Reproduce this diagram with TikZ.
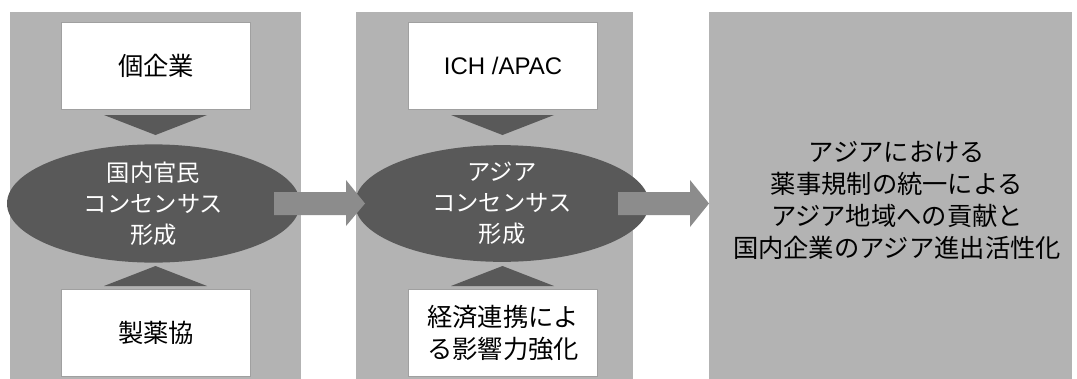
\documentclass[tikz,border=0pt]{standalone}
\usepackage{fontspec}
\setmainfont{Noto Sans CJK JP}
\newfontfamily\latinfont{Liberation Sans}
\usetikzlibrary{positioning,shapes.geometric}
\definecolor{panelgray}{RGB}{179,179,179}
\definecolor{darkgray}{RGB}{89,89,89}
\definecolor{arrowgray}{RGB}{140,140,140}
\definecolor{bordergray}{RGB}{160,160,160}
\tikzset{
  panel/.style={fill=panelgray, draw=none, inner sep=0pt, anchor=north west},
  wbox/.style={fill=white, draw=bordergray, line width=1pt, inner sep=0pt, anchor=north west,
    font=\fontsize{25.3}{32}\selectfont, align=center, text=black},
  oval/.style={ellipse, fill=darkgray, draw=none, inner sep=0pt, text=white,
    font=\fontsize{23.3}{31}\selectfont, align=center},
  tri/.style={fill=darkgray, draw=none},
  blockarrow/.style={fill=arrowgray, draw=none},
  bigtext/.style={font=\fontsize{25.3}{32}\selectfont, align=center, text=black}
}
\begin{document}
\begin{tikzpicture}[x=1pt,y=-1pt]
\useasboundingbox[fill=white] (0,0) rectangle (1077,378);
% panels
\node[panel, minimum width=291pt, minimum height=368pt] (p1) at (10,12) {};
\node[panel, minimum width=277pt, minimum height=368pt] (p2) at (356,12) {};
\node[panel, minimum width=363pt, minimum height=368pt] (p3) at (709,12) {};
% top and bottom boxes
\node[wbox, minimum width=189pt, minimum height=87pt] (b1t) at (61,22) {個企業};
\node[wbox, minimum width=189pt, minimum height=87pt] (b1b) at (61,289) {製薬協};
\node[wbox, minimum width=189pt, minimum height=87pt] (b2t) at (408,22) {\fontsize{24}{30}\latinfont ICH /APAC};
\node[wbox, minimum width=189pt, minimum height=87pt] (b2b) at (408,289) {経済連携によ\\る影響力強化};
% ellipses
\node[oval, minimum width=293pt, minimum height=103pt] (e1) at (153.5,203.5) {国内官民\\コンセンサス\\形成};
\node[oval, minimum width=294pt, minimum height=103pt] (e2) at (502,203.5) {アジア\\コンセンサス\\形成};
% triangles
\fill[tri] (104,115) -- (207,115) -- (155.5,135) -- cycle;
\fill[tri] (104,286) -- (207,286) -- (155.5,266) -- cycle;
\fill[tri] (451,115) -- (554,115) -- (502.5,135) -- cycle;
\fill[tri] (451,286) -- (554,286) -- (502.5,266) -- cycle;
% block arrows
\fill[blockarrow] (274,192) -- (346,192) -- (346,180) -- (365,203.5) -- (346,226) -- (346,215) -- (274,215) -- cycle;
\fill[blockarrow] (618,192) -- (690,192) -- (690,180) -- (709,203.5) -- (690,227) -- (690,215) -- (618,215) -- cycle;
% final text
\node[bigtext] (t3) at (897,200) {アジアにおける\\薬事規制の統一による\\アジア地域への貢献と\\国内企業のアジア進出活性化};
\end{tikzpicture}
\end{document}
